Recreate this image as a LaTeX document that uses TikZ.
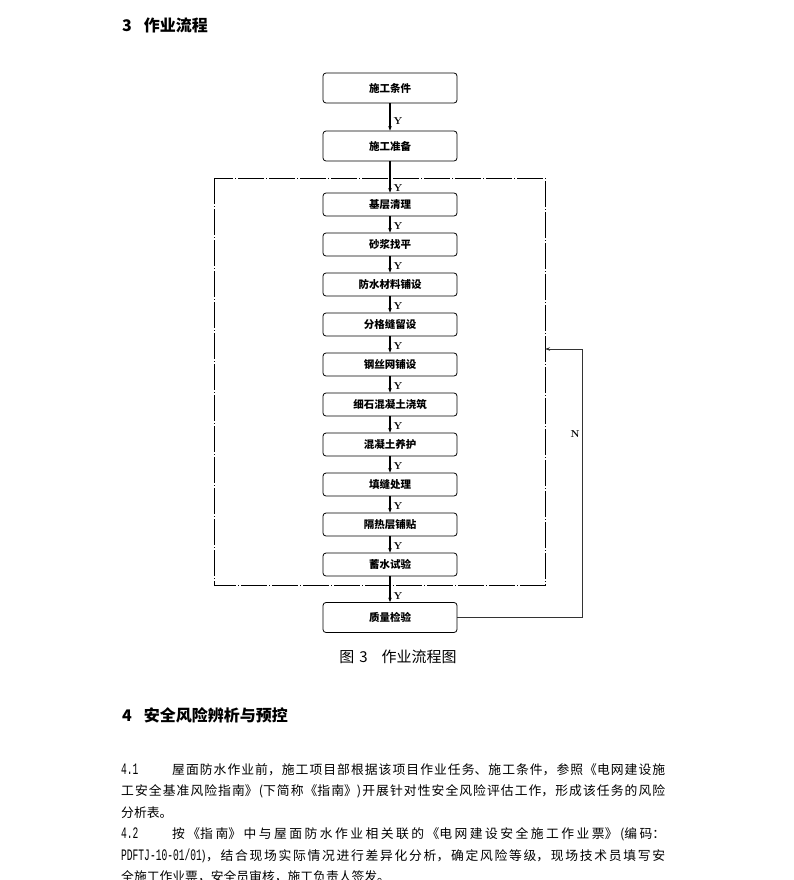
\documentclass[tikz,border=0pt]{standalone}
\usepackage{fontspec}
\newfontfamily\cjk{Noto Sans CJK SC}
\newfontfamily\monof[FakeStretch=0.6]{Liberation Mono}
\usetikzlibrary{arrows.meta}
\XeTeXlinebreaklocale "zh"
\XeTeXlinebreakskip=0pt plus 2pt
\begin{document}
\begin{tikzpicture}[x=1pt,y=-1pt,
  bigbox/.style={draw,rectangle,rounded corners=3pt,line width=0.8pt,minimum width=134pt,minimum height=30pt,inner sep=0pt,font=\cjk\bfseries\fontsize{10.5}{12}\selectfont},
  smallbox/.style={bigbox,minimum height=23pt},
  arr/.style={line width=1.3pt,-{Stealth[length=4.5pt,width=3.5pt]}},
  fbarr/.style={line width=0.9pt,draw=black!80,-{Stealth[length=5pt,width=3.5pt]}},
  ylab/.style={font=\bfseries\fontsize{10}{12}\selectfont,anchor=west,inner sep=0pt},
  frame/.style={line width=0.9pt,dash pattern=on 26pt off 2pt on 1pt off 2pt},
  head/.style={anchor=west,inner sep=0pt,font=\cjk\bfseries\fontsize{16}{18}\selectfont},
]
\useasboundingbox (0,0) rectangle (794,880);
\clip (0,0) rectangle (794,880);

% headings
\node[head] (h3) at (122,25) {3\hspace{12pt}作业流程};
\node[head] (h4) at (122,715) {4\hspace{12pt}安全风险辨析与预控};

% flowchart
\node[bigbox] (c1) at (390,88) {施工条件};
\node[bigbox] (c2) at (390,146) {施工准备};
\foreach \i/\t in {1/基层清理,2/砂浆找平,3/防水材料铺设,4/分格缝留设,5/钢丝网铺设,6/细石混凝土浇筑,7/混凝土养护,8/填缝处理,9/隔热层铺贴,10/蓄水试验}{
  \node[smallbox] (s\i) at (390,{204.5+40*(\i-1)}) {\t};
}
\node[bigbox] (q) at (390,617.5) {质量检验};

\draw[frame] (214,178) rectangle (545,585);

\draw[arr] (c1) -- (c2) node[ylab,pos=0.65,xshift=3pt] (y0) {Y};
\draw[arr] (c2) -- (s1) node[ylab,pos=0.84,xshift=3pt] (y1) {Y};
\foreach \i/\j in {1/2,2/3,3/4,4/5,5/6,6/7,7/8,8/9,9/10}{
  \draw[arr] (s\i) -- (s\j) node[ylab,pos=0.6,xshift=3pt] (yy\i) {Y};
}
\draw[arr] (s10) -- (q) node[ylab,pos=0.78,xshift=3pt] (y10) {Y};

\coordinate (fb) at (545,349);
\draw[fbarr] (q.east) -- ++(125,0) |- (fb);
\node[font=\bfseries\fontsize{10}{12}\selectfont,inner sep=0pt] (n) at (575,434) {N};

% caption
\node[inner sep=0pt,font=\cjk\fontsize{15}{18}\selectfont] (cap) at (398,657) {图\hspace{5pt}3\hspace{14pt}作业流程图};

% paragraph
\node[anchor=north west,inner sep=0pt,text width=544pt,align=justify] (para) at (121,763)
{\cjk\fontsize{12.8}{21.5}\selectfont
\makebox[51pt][l]{\monof\fontsize{16}{14}\selectfont 4.1}屋面防水作业前，施工项目部根据该项目作业任务、施工条件，参照《电网建设施\linebreak
工安全基准风险指南》(下简称《指南》)开展针对性安全风险评估工作，形成该任务的风险\linebreak
分析表。\par
\makebox[51pt][l]{\monof\fontsize{16}{14}\selectfont 4.2}按《指南》中与屋面防水作业相关联的《电网建设安全施工作业票》(编码：\linebreak
{\monof\fontsize{16}{14}\selectfont PDFTJ-10-01/01})，结合现场实际情况进行差异化分析，确定风险等级，现场技术员填写安\linebreak
全施工作业票，安全员审核，施工负责人签发。\par};
\end{tikzpicture}
\end{document}
